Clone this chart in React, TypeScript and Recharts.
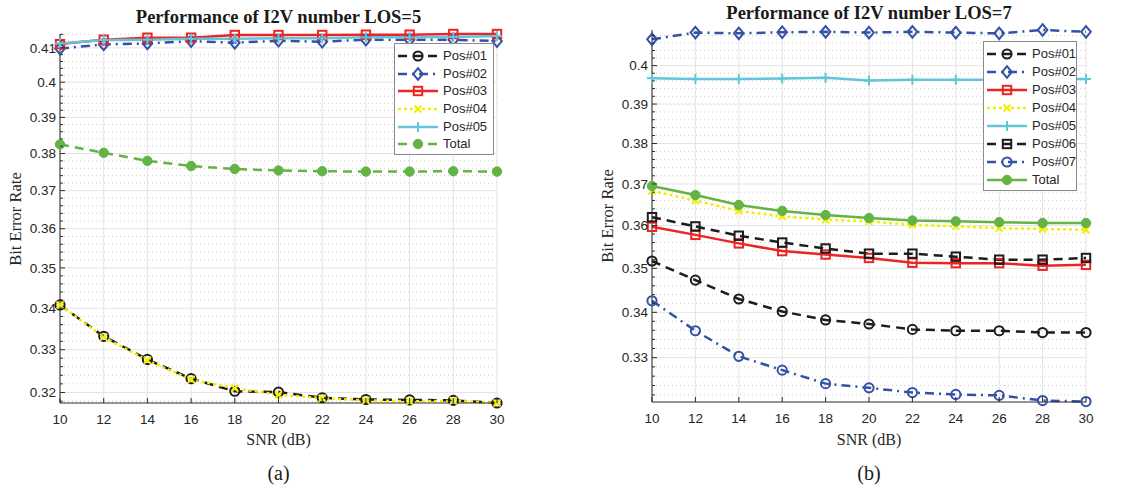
import React from 'react';
import { LineChart, Line, XAxis, YAxis, CartesianGrid } from 'recharts';

// SNR sweep shared by both panels
const SNR = [10, 12, 14, 16, 18, 20, 22, 24, 26, 28, 30];

// panel (a): LOS = 5
const L5_POS01 = [0.3408, 0.3332, 0.3277, 0.3232, 0.3203, 0.3201, 0.3188, 0.3184, 0.3183, 0.3182, 0.3176];
const L5_POS02 = [0.4098, 0.4110, 0.4113, 0.4120, 0.4115, 0.4121, 0.4118, 0.4124, 0.4124, 0.4124, 0.4120];
const L5_POS03 = [0.4111, 0.4124, 0.4130, 0.4130, 0.4138, 0.4138, 0.4138, 0.4139, 0.4139, 0.4141, 0.4141];
const L5_POS04 = [0.3408, 0.3330, 0.3275, 0.3230, 0.3210, 0.3195, 0.3187, 0.3182, 0.3180, 0.3181, 0.3176];
const L5_POS05 = [0.4113, 0.4123, 0.4124, 0.4127, 0.4127, 0.4128, 0.4128, 0.4131, 0.4131, 0.4132, 0.4135];
const L5_TOTAL = [0.3825, 0.3802, 0.3780, 0.3766, 0.3758, 0.3754, 0.3752, 0.3751, 0.3751, 0.3752, 0.3751];

// panel (b): LOS = 7
const L7_POS01 = [0.3517, 0.3473, 0.3430, 0.3402, 0.3383, 0.3374, 0.3362, 0.3359, 0.3359, 0.3355, 0.3355];
const L7_POS02 = [0.4070, 0.4088, 0.4086, 0.4089, 0.4090, 0.4088, 0.4090, 0.4088, 0.4086, 0.4095, 0.4090];
const L7_POS03 = [0.3597, 0.3578, 0.3558, 0.3540, 0.3532, 0.3524, 0.3513, 0.3512, 0.3512, 0.3506, 0.3508];
const L7_POS04 = [0.3683, 0.3660, 0.3635, 0.3622, 0.3614, 0.3610, 0.3602, 0.3598, 0.3594, 0.3592, 0.3590];
const L7_POS05 = [0.3967, 0.3965, 0.3965, 0.3966, 0.3968, 0.3961, 0.3963, 0.3963, 0.3963, 0.3964, 0.3965];
const L7_POS06 = [0.3620, 0.3598, 0.3576, 0.3560, 0.3546, 0.3534, 0.3534, 0.3527, 0.3520, 0.3520, 0.3524];
const L7_POS07 = [0.3426, 0.3359, 0.3303, 0.3273, 0.3244, 0.3235, 0.3225, 0.3221, 0.3219, 0.3208, 0.3206];
const L7_TOTAL = [0.3695, 0.3673, 0.3649, 0.3635, 0.3625, 0.3618, 0.3612, 0.3610, 0.3608, 0.3606, 0.3606];

const Y_MAJOR_A = [0.32, 0.33, 0.34, 0.35, 0.36, 0.37, 0.38, 0.39, 0.4, 0.41];
const Y_MAJOR_B = [0.33, 0.34, 0.35, 0.36, 0.37, 0.38, 0.39, 0.4];

const BLACK = '#1c1c1c';
const BLUE = '#3451a6';
const RED = '#ee2424';
const YELLOW = '#f2ee00';
const CYAN = '#63c5d9';
const GREEN = '#63b445';
const AXIS = '#2b2b2b';

const DASH = '9 6';
const DASHDOT = '9 5 2 5';
const DOT = '3 3';

type Marker = 'circle' | 'diamond' | 'square' | 'x' | 'plus' | 'dot';
type Series = { key: string; name: string; color: string; dash?: string; marker: Marker; values: number[] };

const SERIES_A: Series[] = [
  { key: 'p1', name: 'Pos#01', color: BLACK, dash: DASH, marker: 'circle', values: L5_POS01 },
  { key: 'p2', name: 'Pos#02', color: BLUE, dash: DASHDOT, marker: 'diamond', values: L5_POS02 },
  { key: 'p3', name: 'Pos#03', color: RED, marker: 'square', values: L5_POS03 },
  { key: 'p4', name: 'Pos#04', color: YELLOW, dash: DOT, marker: 'x', values: L5_POS04 },
  { key: 'p5', name: 'Pos#05', color: CYAN, marker: 'plus', values: L5_POS05 },
  { key: 'tot', name: 'Total', color: GREEN, dash: DASH, marker: 'dot', values: L5_TOTAL },
];

const SERIES_B: Series[] = [
  { key: 'p1', name: 'Pos#01', color: BLACK, dash: DASH, marker: 'circle', values: L7_POS01 },
  { key: 'p2', name: 'Pos#02', color: BLUE, dash: DASHDOT, marker: 'diamond', values: L7_POS02 },
  { key: 'p3', name: 'Pos#03', color: RED, marker: 'square', values: L7_POS03 },
  { key: 'p4', name: 'Pos#04', color: YELLOW, dash: DOT, marker: 'x', values: L7_POS04 },
  { key: 'p5', name: 'Pos#05', color: CYAN, marker: 'plus', values: L7_POS05 },
  { key: 'p6', name: 'Pos#06', color: BLACK, dash: DASH, marker: 'square', values: L7_POS06 },
  { key: 'p7', name: 'Pos#07', color: BLUE, dash: DASHDOT, marker: 'circle', values: L7_POS07 },
  { key: 'tot', name: 'Total', color: GREEN, marker: 'dot', values: L7_TOTAL },
];

const fmt = (v: number) => String(Number(v.toFixed(2)));

// minor log-axis divisions every 0.002 between the major ticks
const minorBetween = (lo: number, hi: number, major: number[]) => {
  const out: number[] = [];
  for (let k = Math.ceil(lo * 500); k <= Math.floor(hi * 500); k++) {
    const v = +(k / 500).toFixed(3);
    if (!major.some((m) => Math.abs(m - v) < 1e-6)) out.push(v);
  }
  return out;
};

function MarkerShape({ cx, cy, color, marker }: { cx: number; cy: number; color: string; marker: Marker }) {
  const sw = 2;
  switch (marker) {
    case 'circle':
      return <circle cx={cx} cy={cy} r={4.6} fill="none" stroke={color} strokeWidth={sw} />;
    case 'diamond':
      return (
        <polygon
          points={`${cx},${cy - 5.8} ${cx + 4.8},${cy} ${cx},${cy + 5.8} ${cx - 4.8},${cy}`}
          fill="none"
          stroke={color}
          strokeWidth={sw}
        />
      );
    case 'square':
      return <rect x={cx - 4.2} y={cy - 4.2} width={8.4} height={8.4} fill="none" stroke={color} strokeWidth={sw} />;
    case 'x':
      return (
        <g stroke={color} strokeWidth={sw}>
          <line x1={cx - 3.5} y1={cy - 3.5} x2={cx + 3.5} y2={cy + 3.5} />
          <line x1={cx - 3.5} y1={cy + 3.5} x2={cx + 3.5} y2={cy - 3.5} />
        </g>
      );
    case 'plus':
      return (
        <g stroke={color} strokeWidth={sw}>
          <line x1={cx - 5} y1={cy} x2={cx + 5} y2={cy} />
          <line x1={cx} y1={cy - 5} x2={cx} y2={cy + 5} />
        </g>
      );
    default:
      return <circle cx={cx} cy={cy} r={4.7} fill={color} stroke={color} strokeWidth={1} />;
  }
}

const tickFont = { fontFamily: '"Liberation Sans", Arial, sans-serif', fontSize: 13.5, fill: '#262626' };
const serif = '"Liberation Serif", "Times New Roman", serif';

type PanelProps = {
  left: number;
  margin: { top: number; right: number; bottom: number; left: number };
  series: Series[];
  yDomain: [number, number];
  yMajor: number[];
  title: string;
  caption: string;
  legend: { x: number; y: number; w: number; row: number };
};

function Panel({ left, margin, series, yDomain, yMajor, title, caption, legend }: PanelProps) {
  const W = 560;
  const H = 487;
  const data = SNR.map((snr, i) => {
    const row: Record<string, number> = { snr };
    series.forEach((s) => (row[s.key] = s.values[i]));
    return row;
  });
  const minor = minorBetween(yDomain[0], yDomain[1], yMajor);
  const yTicks = [...yMajor, ...minor].sort((a, b) => a - b);
  const plotL = margin.left + 50;
  const plotR = W - margin.right;
  const plotT = margin.top;
  const plotB = H - margin.bottom - 30;
  const cxMid = left + (plotL + plotR) / 2;

  return (
    <>
      <div style={{ position: 'absolute', left, top: 0 }}>
        <LineChart width={W} height={H} data={data} margin={margin}>
          <CartesianGrid vertical={false} horizontalValues={minor} stroke="#cfcfcf" strokeDasharray="1 3" />
          <CartesianGrid horizontalValues={yMajor} verticalValues={SNR} stroke="#e4e4e4" />
          <XAxis
            dataKey="snr"
            type="number"
            domain={[10, 30]}
            ticks={SNR}
            height={30}
            tickSize={0}
            tickMargin={0}
            stroke={AXIS}
            tickLine={false}
            interval={0}
            tick={(p: any) => (
              <g key={`xt-${p.index}`}>
                <line x1={p.x} x2={p.x} y1={plotB} y2={plotB - 5} stroke={AXIS} />
                <text x={p.x} y={plotB + 21} textAnchor="middle" {...tickFont}>
                  {p.payload.value}
                </text>
              </g>
            )}
          />
          <XAxis
            xAxisId="top"
            orientation="top"
            dataKey="snr"
            type="number"
            domain={[10, 30]}
            ticks={SNR}
            height={0}
            tickSize={0}
            tickMargin={0}
            stroke={AXIS}
            tickLine={false}
            interval={0}
            tick={(p: any) => (
              <line key={`tt-${p.index}`} x1={p.x} x2={p.x} y1={plotT} y2={plotT + 5} stroke={AXIS} />
            )}
          />
          <YAxis
            scale="log"
            type="number"
            domain={yDomain}
            ticks={yTicks}
            width={50}
            tickSize={0}
            tickMargin={0}
            stroke={AXIS}
            tickLine={false}
            interval={0}
            tick={(p: any) => {
              const v = p.payload.value as number;
              const isMajor = yMajor.some((m) => Math.abs(m - v) < 1e-6);
              return (
                <g key={`yt-${p.index}`}>
                  <line x1={plotL} x2={plotL + (isMajor ? 5 : 3)} y1={p.y} y2={p.y} stroke={AXIS} />
                  {isMajor && (
                    <text x={plotL - 4} y={p.y + 4.7} textAnchor="end" {...tickFont}>
                      {fmt(v)}
                    </text>
                  )}
                </g>
              );
            }}
          />
          <YAxis
            yAxisId="right"
            orientation="right"
            scale="log"
            type="number"
            domain={yDomain}
            ticks={yTicks}
            width={0}
            tickSize={0}
            tickMargin={0}
            stroke={AXIS}
            tickLine={false}
            interval={0}
            tick={(p: any) => {
              const v = p.payload.value as number;
              const isMajor = yMajor.some((m) => Math.abs(m - v) < 1e-6);
              return <line key={`rt-${p.index}`} x1={plotR} x2={plotR - (isMajor ? 5 : 3)} y1={p.y} y2={p.y} stroke={AXIS} />;
            }}
          />
          {series.map((s) => (
            <Line
              key={s.key}
              dataKey={s.key}
              name={s.name}
              stroke={s.color}
              strokeWidth={2.5}
              strokeDasharray={s.dash}
              type="linear"
              isAnimationActive={false}
              activeDot={false}
              dot={(p: any) => <MarkerShape key={`${s.key}-${p.index}`} cx={p.cx} cy={p.cy} color={s.color} marker={s.marker} />}
            />
          ))}
        </LineChart>
      </div>

      {/* title, axis labels, caption */}
      <div
        style={{
          position: 'absolute',
          left: cxMid,
          top: plotT - 17,
          transform: 'translate(-50%, -50%)',
          whiteSpace: 'nowrap',
          fontFamily: serif,
          fontWeight: 'bold',
          fontSize: 18.5,
          color: '#1a1a1a',
        }}
      >
        {title}
      </div>
      <div
        style={{
          position: 'absolute',
          left: cxMid,
          top: 440,
          transform: 'translate(-50%, -50%)',
          whiteSpace: 'nowrap',
          fontFamily: serif,
          fontSize: 16,
          color: '#262626',
        }}
      >
        SNR (dB)
      </div>
      <div
        style={{
          position: 'absolute',
          left: left + plotL - 44,
          top: (plotT + plotB) / 2,
          transform: 'translate(-50%, -50%) rotate(-90deg)',
          whiteSpace: 'nowrap',
          fontFamily: serif,
          fontSize: 16.5,
          color: '#262626',
        }}
      >
        Bit Error Rate
      </div>
      <div
        style={{
          position: 'absolute',
          left: cxMid,
          top: 473,
          transform: 'translate(-50%, -50%)',
          whiteSpace: 'nowrap',
          fontFamily: serif,
          fontSize: 20,
          color: '#1a1a1a',
        }}
      >
        {caption}
      </div>

      {/* legend box */}
      <div
        style={{
          position: 'absolute',
          left: legend.x,
          top: legend.y,
          width: legend.w,
          height: series.length * legend.row + 6,
          background: '#fff',
          border: '1px solid #8a8a8a',
          boxSizing: 'border-box',
        }}
      >
        {series.map((s, i) => (
          <div
            key={s.key}
            style={{ position: 'absolute', left: 2, top: 3 + i * legend.row, height: legend.row, display: 'flex', alignItems: 'center' }}
          >
            <svg width={42} height={14} style={{ display: 'block' }}>
              <line x1={1} x2={41} y1={7} y2={7} stroke={s.color} strokeWidth={2.5} strokeDasharray={s.dash} />
              <MarkerShape cx={21} cy={7} color={s.color} marker={s.marker} />
            </svg>
            <span style={{ ...tickFont, fontSize: 13, color: '#262626', marginLeft: 4, lineHeight: '14px' }}>{s.name}</span>
          </div>
        ))}
      </div>
    </>
  );
}

export default function App() {
  return (
    <div style={{ position: 'absolute', left: 0, top: 0, width: 1130, height: 487, background: '#fff', overflow: 'hidden' }}>
      <Panel
        left={0}
        margin={{ top: 34, right: 63, bottom: 54, left: 10 }}
        series={SERIES_A}
        yDomain={[0.3176, 0.4141]}
        yMajor={Y_MAJOR_A}
        title="Performance of I2V number LOS=5"
        caption="(a)"
        legend={{ x: 394, y: 43, w: 100, row: 17.7 }}
      />
      <Panel
        left={565}
        margin={{ top: 30, right: 39, bottom: 55, left: 37 }}
        series={SERIES_B}
        yDomain={[0.3205, 0.4095]}
        yMajor={Y_MAJOR_B}
        title="Performance of I2V number LOS=7"
        caption="(b)"
        legend={{ x: 983, y: 41, w: 94, row: 18 }}
      />
    </div>
  );
}
